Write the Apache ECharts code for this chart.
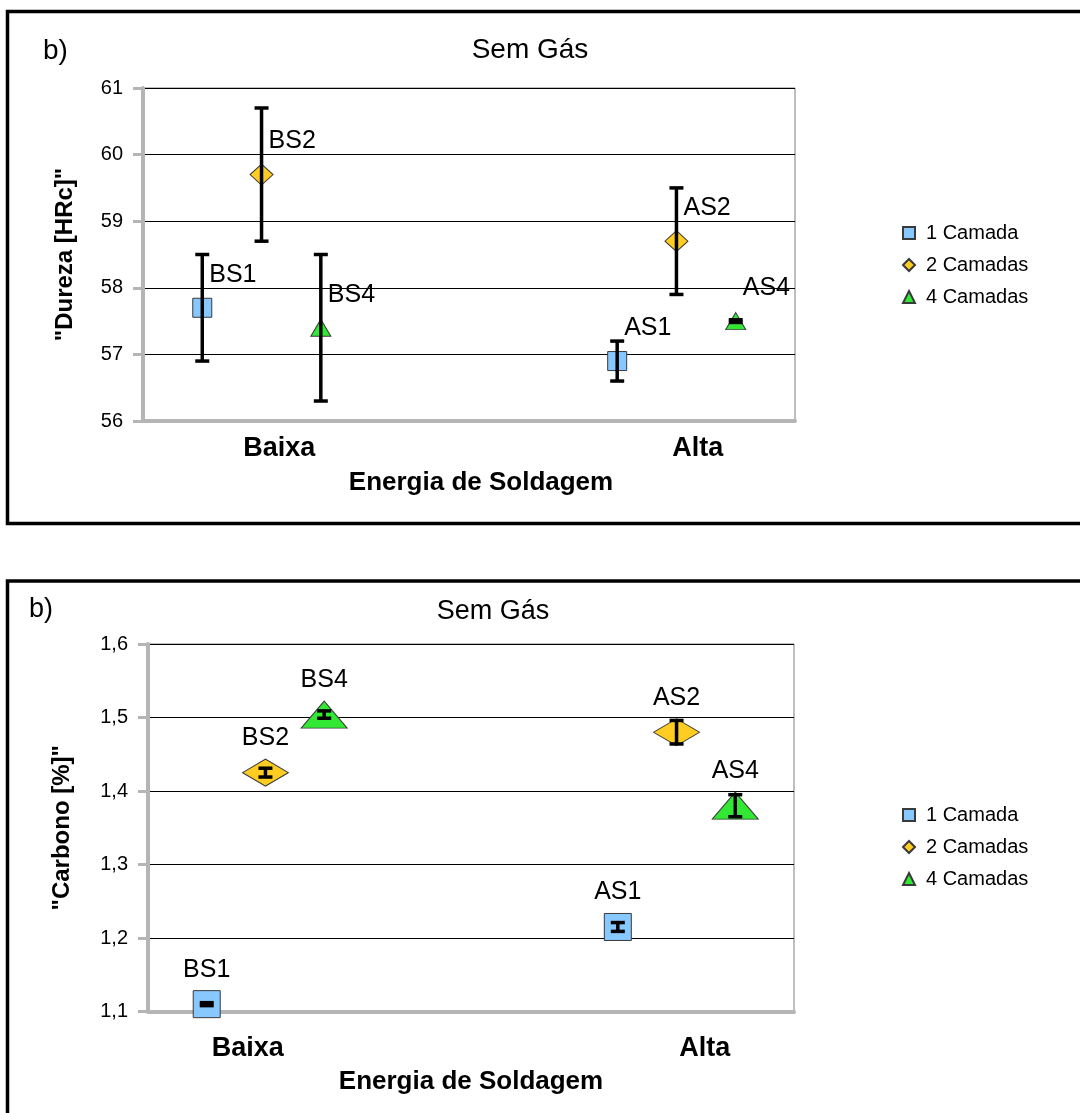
<!DOCTYPE html>
<html>
<head>
<meta charset="utf-8">
<title>Sem Gás – Dureza e Carbono</title>
<script src="https://cdn.jsdelivr.net/npm/echarts@6/dist/echarts.min.js"></script>
<style>
  html, body { margin: 0; padding: 0; background: #fff; }
  #chart { width: 1080px; height: 1113px; }
</style>
</head>
<body>
<div id="chart"></div>
<script>
// ---- data ----
const energyLevels = ['Baixa', 'Alta'];
const layerNames = ['1 Camada', '2 Camadas', '4 Camadas'];
// x slot of each sample (Baixa, Alta) per layer series
const sampleX = [[1, 8], [2, 9], [3, 10]];
const sampleLabels = [['BS1', 'AS1'], ['BS2', 'AS2'], ['BS4', 'AS4']];

// hardness "Dureza [HRc]": mean and half-range of error bar
const durezaMean = [[57.7, 56.9], [59.7, 58.7], [57.4, 57.5]];
const durezaErr  = [[0.8, 0.3], [1.0, 0.8], [1.1, 0.02]];

// carbon content "Carbono [%]"
const carbonoMean = [[1.11, 1.215], [1.425, 1.48], [1.504, 1.38]];
const carbonoErr  = [[0.002, 0.006], [0.006, 0.016], [0.005, 0.015]];

// ---- styles ----
const FONT = "'Liberation Sans', Arial, sans-serif";
const layerColors = ['#86C8FF', '#FFCC22', '#33E833'];
const layerSymbols = ['rect', 'diamond', 'triangle'];
const topSymbolSizes = [[19, 19], [23, 21], [20, 17]];
const bottomSymbolSizes = [[27, 27], [46, 27], [46, 27]];

const chart = echarts.init(document.getElementById('chart'));

function points(means, li) {
  return means[li].map((m, k) => [sampleX[li][k], m, sampleLabels[li][k]]);
}
function bars(means, errs) {
  const out = [];
  means.forEach((row, li) => row.forEach((m, k) => {
    out.push([sampleX[li][k], m - errs[li][k], m + errs[li][k]]);
  }));
  return out;
}
function errorBarRenderer(capHalf, lw) {
  return function (params, api) {
    const x = api.value(0);
    const top = api.coord([x, api.value(2)]);
    const bot = api.coord([x, api.value(1)]);
    const style = { stroke: '#000', lineWidth: lw, fill: null };
    return {
      type: 'group',
      children: [
        { type: 'line', shape: { x1: top[0], y1: top[1], x2: bot[0], y2: bot[1] }, style },
        { type: 'line', shape: { x1: top[0] - capHalf, y1: top[1], x2: top[0] + capHalf, y2: top[1] }, style },
        { type: 'line', shape: { x1: bot[0] - capHalf, y1: bot[1], x2: bot[0] + capHalf, y2: bot[1] }, style }
      ]
    };
  };
}

const axisGray = '#b5b5b5';
function yAxisCfg(gridIndex, min, max, interval, name, nameGap, fmt) {
  return {
    type: 'value', gridIndex, min, max, interval,
    name, nameLocation: 'middle', nameGap,
    nameTextStyle: { fontFamily: FONT, fontSize: 24, fontWeight: 'bold', color: '#000' },
    axisLine: { show: true, lineStyle: { color: axisGray, width: 4 } },
    axisTick: { show: true, length: 10, lineStyle: { color: axisGray, width: 3 } },
    axisLabel: { fontFamily: FONT, fontSize: 20, color: '#000', margin: 20, formatter: fmt },
    splitLine: { show: true, lineStyle: { color: '#000', width: 1 } }
  };
}
function xAxisCfg(gridIndex, labelPos, labelMargin, nameGap, namePad) {
  return {
    type: 'value', gridIndex, min: 0, max: 11,
    name: 'Energia de Soldagem', nameLocation: 'middle', nameGap,
    nameTextStyle: { fontFamily: FONT, fontSize: 26, fontWeight: 'bold', color: '#000', padding: namePad },
    axisLine: { show: true, onZero: false, lineStyle: { color: axisGray, width: 4 } },
    axisTick: { show: false },
    splitLine: { show: false },
    axisLabel: {
      customValues: labelPos,
      margin: labelMargin,
      fontFamily: FONT, fontSize: 27, fontWeight: 'bold', color: '#000',
      formatter: (v) => energyLevels[labelPos.indexOf(v)]
    }
  };
}

const series = [];
layerNames.forEach((name, li) => {
  series.push({
    type: 'scatter', name, xAxisIndex: 0, yAxisIndex: 0,
    symbol: layerSymbols[li], symbolSize: topSymbolSizes[li],
    itemStyle: { color: layerColors[li], borderColor: '#3a3a3a', borderWidth: 1, opacity: 1 },
    data: points(durezaMean, li),
    label: {
      show: true, position: 'inside', align: 'left', verticalAlign: 'middle',
      offset: [7, -33], fontFamily: FONT, fontSize: 25, color: '#000',
      formatter: (p) => p.value[2]
    },
    emphasis: { disabled: true }, z: 2
  });
});
layerNames.forEach((name, li) => {
  series.push({
    type: 'scatter', name, xAxisIndex: 1, yAxisIndex: 1,
    symbol: layerSymbols[li], symbolSize: bottomSymbolSizes[li],
    itemStyle: { color: layerColors[li], borderColor: '#3a3a3a', borderWidth: 1, opacity: 1 },
    data: points(carbonoMean, li),
    label: {
      show: true, position: 'top', distance: 8,
      fontFamily: FONT, fontSize: 25, color: '#000',
      formatter: (p) => p.value[2]
    },
    emphasis: { disabled: true }, z: 2
  });
});
series.push({
  type: 'custom', name: 'erro-dureza', xAxisIndex: 0, yAxisIndex: 0,
  renderItem: errorBarRenderer(7, 3.5), encode: { x: 0, y: [1, 2] },
  data: bars(durezaMean, durezaErr), z: 5, silent: true
});
series.push({
  type: 'custom', name: 'erro-carbono', xAxisIndex: 1, yAxisIndex: 1,
  renderItem: errorBarRenderer(7, 3.5), encode: { x: 0, y: [1, 2] },
  data: bars(carbonoMean, carbonoErr), z: 5, silent: true
});

const legendBase = {
  orient: 'vertical', left: 897, itemWidth: 12, itemHeight: 12, itemGap: 10,
  data: layerNames, selectedMode: false,
  textStyle: { fontFamily: FONT, fontSize: 20, lineHeight: 22, color: '#000', padding: [0, 0, 0, 6] }
};

const option = {
  animation: false,
  backgroundColor: '#fff',
  grid: [
    { left: 143, top: 88, width: 652, height: 333, show: true, borderColor: '#7f7f7f', borderWidth: 1, backgroundColor: 'transparent' },
    { left: 148, top: 644, width: 646, height: 367.5, show: true, borderColor: '#7f7f7f', borderWidth: 1, backgroundColor: 'transparent' }
  ],
  xAxis: [
    xAxisCfg(0, [2.3, 9.36], 14, 49, [0, 0, 0, 24]),
    xAxisCfg(1, [1.7, 9.48], 24, 57, [0, 0, 0, 0])
  ],
  yAxis: [
    yAxisCfg(0, 56, 61, 1, '"Dureza [HRc]"', 66, (v) => String(v)),
    yAxisCfg(1, 1.1, 1.6, 0.1, '"Carbono [%]"', 74, (v) => v.toFixed(1).replace('.', ','))
  ],
  legend: [
    Object.assign({}, legendBase, { top: 217 }),
    Object.assign({}, legendBase, { top: 799 })
  ],
  graphic: [
    { type: 'rect', silent: true, z: -10, shape: { x: 7.5, y: 11.5, width: 1100, height: 512 }, style: { fill: null, stroke: '#000', lineWidth: 3.5 } },
    { type: 'rect', silent: true, z: -10, shape: { x: 7.5, y: 581, width: 1100, height: 600 }, style: { fill: null, stroke: '#000', lineWidth: 3.5 } },
    { type: 'text', silent: true, style: { text: 'b)', x: 43, y: 51, verticalAlign: 'middle', font: '28px ' + FONT, fill: '#000' } },
    { type: 'text', silent: true, style: { text: 'Sem Gás', x: 530, y: 50, align: 'center', verticalAlign: 'middle', font: '28px ' + FONT, fill: '#000' } },
    { type: 'text', silent: true, style: { text: 'b)', x: 29, y: 610, verticalAlign: 'middle', font: '27px ' + FONT, fill: '#000' } },
    { type: 'text', silent: true, style: { text: 'Sem Gás', x: 493, y: 612, align: 'center', verticalAlign: 'middle', font: '27px ' + FONT, fill: '#000' } }
  ],
  series
};
chart.setOption(option);
</script>
</body>
</html>
